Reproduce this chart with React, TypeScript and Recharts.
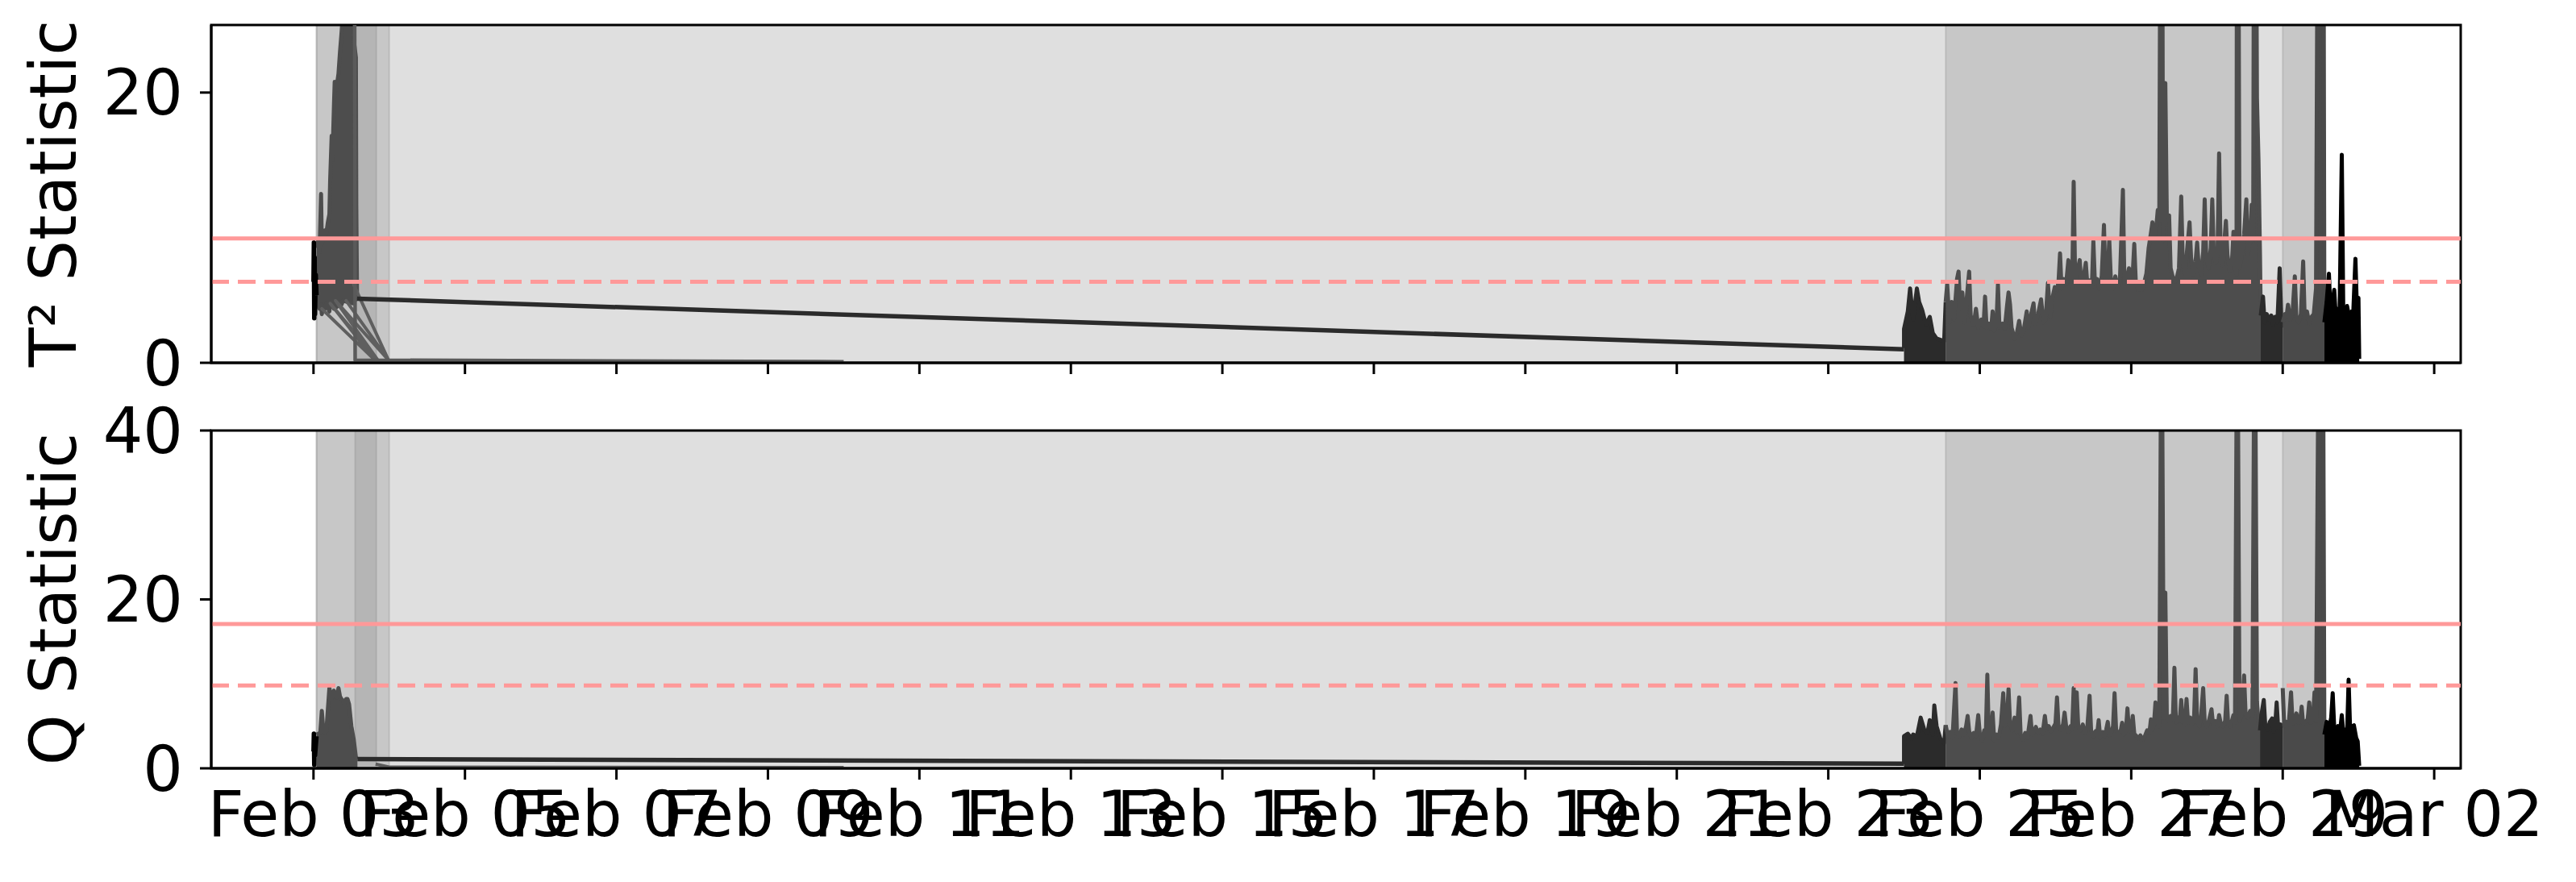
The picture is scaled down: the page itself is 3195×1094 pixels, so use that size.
import React from 'react';
import {
  ComposedChart,
  Line,
  Area,
  XAxis,
  YAxis,
  ReferenceArea,
  ReferenceLine
} from 'recharts';

// x values are days after Feb 03 00:00
const X_DOMAIN: [number, number] = [-1.35, 28.35];
const DAY_TICKS = [0, 2, 4, 6, 8, 10, 12, 14, 16, 18, 20, 22, 24, 26, 28];
const DAY_LABELS = [
  'Feb 03', 'Feb 05', 'Feb 07', 'Feb 09', 'Feb 11', 'Feb 13', 'Feb 15', 'Feb 17',
  'Feb 19', 'Feb 21', 'Feb 23', 'Feb 25', 'Feb 27', 'Feb 29', 'Mar 02'
];

// anomaly windows [start, end]
const SPANS: [number, number][] = [
  [0.04, 26.55],
  [0.04, 1.0],
  [0.55, 0.83],
  [21.55, 25.66],
  [26.0, 26.55]
];

const T2_LIMITS = { ucl: 9.2, warn: 6.0 };
const Q_LIMITS = { ucl: 17.1, warn: 9.8 };

// ---------- T² statistic ----------
const t2StartBlack = [[0.0, 6.0], [0.005, 8.9], [0.01, 3.3], [0.015, 7.8], [0.02, 3.6], [0.03, 6.5], [0.04, 5.0]];
const t2StartRange = [
  [0.04, 4.5, 8.5], [0.06, 4.2, 9.0], [0.08, 4.0, 8.2], [0.10, 4.3, 12.5], [0.11, 3.6, 8.8],
  [0.13, 4.2, 9.2], [0.15, 4.0, 9.8], [0.17, 4.4, 9.6], [0.19, 4.1, 10.4], [0.21, 3.8, 11.0],
  [0.22, 4.3, 13.5], [0.24, 4.2, 16.8], [0.25, 4.5, 15.0], [0.27, 4.0, 19.0], [0.28, 4.3, 20.8],
  [0.30, 4.1, 20.2], [0.32, 4.4, 21.0], [0.33, 4.2, 21.4], [0.35, 4.5, 23.0], [0.37, 4.3, 24.4],
  [0.39, 4.6, 26.0], [0.45, 4.5, 30.0], [0.52, 4.4, 28.0], [0.54, 4.6, 23.5], [0.56, 4.7, 22.6],
  [0.565, 4.7, 11.7], [0.575, 4.7, 4.9]
];
const t2Fan = [
  [0.81, 0.2], [0.11, 4.0], [0.81, 0.2], [0.22, 4.4], [0.85, 0.2], [0.29, 4.6],
  [0.99, 0.2], [0.43, 4.6], [0.99, 0.2], [0.53, 5.8], [0.99, 0.2]
];
const t2Drop = [[0.54, 40], [0.55, 0.2], [7.0, 0.08]];
const t2Bridge = [[0.575, 4.75], [21.0, 1.0]];
const t2Dark1 = [
  [21.0, 1.1], [21.0, 2.5], [21.05, 3.8], [21.08, 5.5], [21.12, 3.2], [21.17, 5.5], [21.2, 4.5],
  [21.24, 3.9], [21.29, 2.8], [21.34, 3.4], [21.38, 2.2], [21.43, 1.8], [21.53, 1.6], [21.55, 4.5]
];
const t2Gray2 = [
  [21.55, 4.5], [21.57, 5.8], [21.6, 3.0], [21.63, 4.5], [21.66, 3.2], [21.7, 6.2], [21.72, 6.75],
  [21.74, 4.0], [21.77, 5.2], [21.8, 3.0], [21.84, 5.5], [21.86, 6.75], [21.88, 3.5], [21.92, 2.8],
  [21.95, 4.0], [21.98, 2.6], [22.02, 3.2], [22.05, 2.7], [22.07, 4.9], [22.09, 2.6], [22.12, 2.9],
  [22.15, 2.5], [22.17, 3.8], [22.19, 2.4], [22.22, 2.8], [22.24, 5.8], [22.26, 2.6], [22.3, 2.9],
  [22.33, 2.5], [22.36, 4.2], [22.38, 5.2], [22.4, 4.3], [22.42, 2.6], [22.46, 1.8], [22.49, 2.2],
  [22.52, 3.1], [22.55, 2.0], [22.58, 2.4], [22.62, 3.8], [22.64, 2.6], [22.67, 3.4], [22.71, 4.4],
  [22.73, 2.9], [22.77, 3.6], [22.81, 4.7], [22.84, 3.0], [22.87, 3.2], [22.9, 5.9], [22.93, 3.4],
  [22.96, 4.8], [22.99, 5.6], [23.02, 5.4], [23.04, 6.0], [23.06, 8.1], [23.08, 5.5], [23.11, 6.2],
  [23.14, 5.8], [23.17, 7.6], [23.19, 6.6], [23.22, 5.6], [23.24, 13.4], [23.26, 6.0], [23.29, 6.8],
  [23.32, 7.6], [23.34, 5.9], [23.37, 6.3], [23.4, 7.4], [23.42, 5.8], [23.45, 6.1], [23.48, 5.6],
  [23.5, 9.0], [23.52, 5.9], [23.55, 6.2], [23.58, 5.5], [23.61, 6.4], [23.64, 10.2], [23.66, 6.0],
  [23.69, 6.7], [23.71, 9.1], [23.73, 6.3], [23.76, 5.5], [23.79, 6.4], [23.82, 5.6], [23.85, 6.0],
  [23.89, 12.8], [23.91, 5.8], [23.94, 6.2], [23.97, 7.0], [24.0, 5.9], [24.02, 6.6], [24.04, 8.8],
  [24.06, 6.0], [24.09, 5.4], [24.12, 5.8], [24.14, 5.4], [24.17, 5.9], [24.2, 6.6], [24.23, 8.5],
  [24.26, 9.6], [24.28, 10.4], [24.3, 9.2], [24.33, 10.0], [24.35, 11.3], [24.37, 10.5], [24.4, 60],
  [24.42, 9.0], [24.44, 12.0], [24.45, 20.7], [24.47, 10.8], [24.5, 10.9], [24.52, 7.0], [24.55, 6.3],
  [24.58, 6.0], [24.61, 6.5], [24.63, 7.0], [24.66, 12.3], [24.68, 7.5], [24.71, 6.6], [24.74, 8.5],
  [24.77, 10.4], [24.79, 7.8], [24.82, 6.5], [24.85, 7.5], [24.87, 8.9], [24.89, 7.2], [24.92, 6.5],
  [24.95, 8.2], [24.97, 12.1], [24.99, 7.9], [25.02, 7.0], [25.05, 8.5], [25.07, 12.1], [25.09, 8.0],
  [25.12, 7.4], [25.14, 8.3], [25.16, 15.5], [25.18, 8.2], [25.21, 7.2], [25.23, 9.0], [25.25, 10.5],
  [25.27, 8.0], [25.3, 6.8], [25.33, 7.5], [25.35, 9.7], [25.37, 7.0], [25.39, 6.5], [25.4, 60],
  [25.43, 7.0], [25.46, 8.0], [25.49, 9.5], [25.52, 12.1], [25.54, 8.0], [25.57, 9.0], [25.59, 11.7],
  [25.61, 9.0], [25.63, 60], [25.66, 19.6], [25.68, 15.0], [25.7, 8.0], [25.71, 3.5]
];
const t2Dark2 = [
  [25.71, 3.5], [25.74, 4.9], [25.76, 3.0], [25.79, 3.6], [25.82, 3.2], [25.85, 3.5], [25.87, 2.8],
  [25.9, 3.4], [25.93, 3.0], [25.96, 7.0], [25.98, 3.4], [26.0, 2.6]
];
const t2Gray3 = [
  [26.0, 3.0], [26.03, 3.6], [26.05, 3.4], [26.07, 4.3], [26.1, 3.2], [26.13, 3.7], [26.16, 6.4],
  [26.18, 3.4], [26.21, 3.0], [26.24, 3.6], [26.27, 7.5], [26.29, 3.3], [26.32, 3.8], [26.35, 2.9],
  [26.38, 3.4], [26.41, 3.6], [26.44, 5.5], [26.48, 60], [26.53, 60], [26.55, 3.0]
];
const t2Black = [
  [26.55, 3.0], [26.58, 4.5], [26.61, 6.6], [26.63, 3.8], [26.66, 4.6], [26.68, 5.4], [26.7, 3.5],
  [26.73, 4.0], [26.75, 3.4], [26.78, 15.4], [26.8, 3.6], [26.83, 3.0], [26.85, 4.2], [26.88, 3.3],
  [26.91, 3.8], [26.93, 3.5], [26.96, 7.7], [26.98, 3.9], [27.0, 4.8], [27.01, 0.3]
];

// ---------- Q statistic ----------
const qStartBlack = [[0.0, 2.0], [0.005, 4.1], [0.01, 0.4], [0.015, 3.5], [0.02, 1.5], [0.04, 3.8]];
const qStart = [
  [0.04, 4.0], [0.07, 4.1], [0.09, 4.3], [0.11, 6.8], [0.13, 4.5], [0.15, 4.2], [0.17, 4.4],
  [0.19, 7.0], [0.21, 9.5], [0.23, 8.6], [0.25, 8.4], [0.27, 9.2], [0.29, 8.6], [0.31, 8.4],
  [0.33, 9.5], [0.35, 8.5], [0.37, 8.2], [0.39, 8.0], [0.41, 7.7], [0.43, 8.2], [0.45, 8.2],
  [0.47, 7.6], [0.5, 5.0], [0.53, 3.5], [0.56, 1.3], [0.58, 1.1]
];
const qZero = [[0.82, 0.5], [1.0, 0.15], [7.0, 0.1]];
const qBridge = [[0.58, 1.1], [21.0, 0.55]];
const qDark1 = [
  [21.0, 0.5], [21.0, 3.8], [21.05, 4.1], [21.1, 3.5], [21.12, 4.0], [21.17, 3.8], [21.22, 6.0],
  [21.27, 4.5], [21.31, 4.2], [21.34, 5.7], [21.38, 4.0], [21.4, 7.45], [21.43, 5.0], [21.48, 3.5],
  [21.53, 3.0], [21.55, 5.1]
];
const qGray2 = [
  [21.55, 5.1], [21.58, 3.8], [21.61, 4.3], [21.64, 3.6], [21.68, 10.1], [21.7, 4.2], [21.73, 3.8],
  [21.76, 4.6], [21.79, 4.0], [21.82, 5.0], [21.84, 6.2], [21.86, 4.4], [21.89, 3.6], [21.92, 4.2],
  [21.95, 3.8], [21.98, 6.3], [22.0, 4.1], [22.03, 3.3], [22.06, 4.5], [22.08, 3.9], [22.1, 11.1],
  [22.12, 3.6], [22.15, 4.4], [22.17, 6.6], [22.19, 3.3], [22.22, 4.0], [22.25, 3.6], [22.28, 5.2],
  [22.31, 8.9], [22.33, 5.0], [22.36, 6.0], [22.38, 9.4], [22.4, 5.3], [22.43, 4.5], [22.46, 6.0],
  [22.49, 4.3], [22.52, 8.4], [22.54, 4.0], [22.57, 3.4], [22.6, 4.2], [22.63, 3.6], [22.67, 6.2],
  [22.69, 4.0], [22.72, 4.4], [22.74, 4.9], [22.77, 4.2], [22.8, 4.6], [22.83, 4.1], [22.86, 6.2],
  [22.88, 4.6], [22.91, 5.0], [22.94, 4.4], [22.97, 4.8], [23.0, 5.3], [23.02, 8.4], [23.04, 5.0],
  [23.07, 4.6], [23.1, 5.2], [23.12, 6.6], [23.14, 5.0], [23.17, 4.4], [23.2, 5.0], [23.22, 4.6],
  [23.24, 9.5], [23.26, 5.2], [23.28, 9.0], [23.3, 5.0], [23.33, 4.5], [23.36, 5.2], [23.39, 4.2],
  [23.42, 4.8], [23.45, 8.6], [23.47, 4.5], [23.5, 3.8], [23.53, 4.4], [23.55, 4.0], [23.57, 5.7],
  [23.59, 3.6], [23.62, 4.3], [23.65, 3.8], [23.67, 4.6], [23.69, 5.5], [23.71, 3.9], [23.74, 4.3],
  [23.76, 5.0], [23.78, 8.9], [23.8, 4.6], [23.83, 4.1], [23.86, 4.4], [23.88, 5.4], [23.9, 4.0],
  [23.93, 4.5], [23.95, 7.1], [23.97, 4.4], [24.0, 4.8], [24.02, 6.2], [24.04, 4.1], [24.07, 3.8],
  [24.1, 3.5], [24.12, 3.9], [24.15, 3.4], [24.18, 3.8], [24.21, 4.5], [24.24, 4.2], [24.26, 5.8],
  [24.28, 4.6], [24.3, 5.2], [24.32, 7.8], [24.34, 5.5], [24.37, 5.0], [24.4, 60], [24.43, 6.0],
  [24.45, 20.8], [24.47, 6.0], [24.5, 5.6], [24.52, 6.2], [24.55, 5.8], [24.57, 11.9], [24.59, 5.4],
  [24.62, 6.0], [24.64, 5.6], [24.66, 8.1], [24.68, 5.5], [24.71, 5.2], [24.73, 8.2], [24.75, 5.4],
  [24.78, 6.0], [24.8, 5.2], [24.83, 6.0], [24.85, 11.75], [24.87, 5.6], [24.9, 5.0], [24.92, 6.0],
  [24.95, 9.5], [24.97, 5.5], [25.0, 5.0], [25.03, 5.8], [25.06, 7.0], [25.08, 5.2], [25.11, 5.6],
  [25.14, 5.0], [25.16, 6.3], [25.18, 5.4], [25.21, 5.0], [25.24, 5.6], [25.26, 8.6], [25.28, 5.2],
  [25.31, 5.0], [25.35, 6.3], [25.37, 5.4], [25.4, 60], [25.43, 5.6], [25.46, 6.5], [25.49, 11.0],
  [25.51, 6.4], [25.54, 6.0], [25.57, 6.8], [25.6, 6.2], [25.63, 60], [25.66, 7.9], [25.68, 5.5],
  [25.7, 4.5]
];
const qDark2 = [
  [25.7, 4.5], [25.72, 6.4], [25.75, 8.1], [25.77, 5.0], [25.8, 4.6], [25.83, 5.5], [25.86, 5.9],
  [25.88, 4.4], [25.9, 5.0], [25.92, 7.8], [25.94, 4.8], [25.97, 5.2], [26.0, 5.0]
];
const qGray3 = [
  [26.0, 9.5], [26.02, 5.0], [26.05, 5.5], [26.08, 5.2], [26.11, 9.0], [26.13, 5.3], [26.16, 5.8],
  [26.18, 6.5], [26.21, 5.4], [26.23, 5.6], [26.25, 7.3], [26.27, 5.2], [26.3, 5.5], [26.33, 5.8],
  [26.35, 7.8], [26.37, 5.4], [26.4, 6.0], [26.42, 9.0], [26.44, 5.6], [26.48, 60], [26.53, 60],
  [26.55, 4.0]
];
const qBlack = [
  [26.55, 4.0], [26.58, 5.5], [26.61, 4.6], [26.64, 6.0], [26.66, 8.9], [26.68, 4.8], [26.71, 4.2],
  [26.73, 5.0], [26.76, 4.6], [26.78, 6.3], [26.8, 4.2], [26.83, 4.6], [26.85, 4.0], [26.87, 10.5],
  [26.89, 4.5], [26.92, 5.0], [26.94, 5.1], [26.97, 3.6], [26.99, 3.2], [27.01, 0.3]
];

const pts = (a: number[][]) => a.map(([d, v]) => ({ d, v }));
const rangePts = (a: number[][]) => a.map(([d, lo, hi]) => ({ d, v: [lo, hi] }));

type Series = { kind: 'line' | 'area'; data: any[]; color: string; width: number };

const t2Series: Series[] = [
  { kind: 'line', data: pts(t2Fan), color: '#5f5f5f', width: 4 },
  { kind: 'line', data: pts(t2Drop), color: '#5a5a5a', width: 4.5 },
  { kind: 'line', data: pts(t2Bridge), color: '#2b2b2b', width: 5.5 },
  { kind: 'area', data: rangePts(t2StartRange), color: '#4d4d4d', width: 5 },
  { kind: 'line', data: pts(t2StartBlack), color: '#000000', width: 5.5 },
  { kind: 'area', data: pts(t2Dark1), color: '#2b2b2b', width: 5 },
  { kind: 'area', data: pts(t2Gray2), color: '#4d4d4d', width: 5 },
  { kind: 'area', data: pts(t2Dark2), color: '#2b2b2b', width: 5 },
  { kind: 'area', data: pts(t2Gray3), color: '#4a4a4a', width: 5 },
  { kind: 'area', data: pts(t2Black), color: '#000000', width: 5 }
];

const qSeries: Series[] = [
  { kind: 'line', data: pts(qZero), color: '#5a5a5a', width: 4 },
  { kind: 'line', data: pts(qBridge), color: '#2b2b2b', width: 5.5 },
  { kind: 'area', data: pts(qStart), color: '#4d4d4d', width: 5 },
  { kind: 'line', data: pts(qStartBlack), color: '#000000', width: 5.5 },
  { kind: 'area', data: pts(qDark1), color: '#2b2b2b', width: 5 },
  { kind: 'area', data: pts(qGray2), color: '#4d4d4d', width: 5 },
  { kind: 'area', data: pts(qDark2), color: '#2b2b2b', width: 5 },
  { kind: 'area', data: pts(qGray3), color: '#4a4a4a', width: 5 },
  { kind: 'area', data: pts(qBlack), color: '#000000', width: 5 }
];

const FONT = 'DejaVu Sans';
const tickStyle = { fontSize: 78, fill: '#000', fontFamily: FONT };

interface PanelProps {
  height: number;
  top: number;
  xAxisHeight: number;
  yDomain: [number, number];
  yTicks: number[];
  limits: { ucl: number; warn: number };
  series: Series[];
  showDates: boolean;
}

const Panel: React.FC<PanelProps> = ({ height, top, xAxisHeight, yDomain, yTicks, limits, series, showDates }) => (
  <div style={{ position: 'absolute', left: 0, top: 0 }}>
    <ComposedChart width={3195} height={height} margin={{ top, right: 143, bottom: 0, left: 0 }}>
      <XAxis
        dataKey="d"
        type="number"
        domain={X_DOMAIN}
        ticks={DAY_TICKS}
        interval={0}
        allowDataOverflow
        height={xAxisHeight}
        tickSize={14}
        tickMargin={15}
        stroke="#000"
        strokeWidth={3}
        tick={tickStyle}
        tickFormatter={(v: number) => (showDates ? DAY_LABELS[DAY_TICKS.indexOf(v)] : '')}
      />
      <YAxis
        type="number"
        domain={yDomain}
        ticks={yTicks}
        interval={0}
        allowDataOverflow
        width={262}
        tickSize={14}
        tickMargin={21}
        stroke="#000"
        strokeWidth={3}
        tick={tickStyle}
      />
      {SPANS.map(([a, b], i) => (
        <ReferenceArea key={i} x1={a} x2={b} fill="#808080" fillOpacity={0.25} stroke="#808080" strokeOpacity={0.25} strokeWidth={2} />
      ))}
      {series.map((s, i) =>
        s.kind === 'area' ? (
          <Area
            key={i}
            data={s.data}
            dataKey="v"
            type="linear"
            stroke={s.color}
            strokeWidth={s.width}
            strokeLinejoin="round"
            fill={s.color}
            fillOpacity={1}
            dot={false}
            activeDot={false}
            isAnimationActive={false}
          />
        ) : (
          <Line
            key={i}
            data={s.data}
            dataKey="v"
            type="linear"
            stroke={s.color}
            strokeWidth={s.width}
            strokeLinejoin="round"
            dot={false}
            activeDot={false}
            isAnimationActive={false}
          />
        )
      )}
      <ReferenceLine y={limits.ucl} stroke="#ff9999" strokeWidth={5} />
      <ReferenceLine y={limits.warn} stroke="#ff9999" strokeWidth={5} strokeDasharray="22 11" />
      <ReferenceArea
        x1={X_DOMAIN[0]}
        x2={X_DOMAIN[1]}
        y1={yDomain[0]}
        y2={yDomain[1]}
        fill="none"
        stroke="#000"
        strokeWidth={3}
        ifOverflow="visible"
      />
    </ComposedChart>
  </div>
);

export default function App() {
  document.body.style.margin = '0';
  return (
    <div style={{ position: 'relative', width: 3195, height: 1094, background: '#fff', fontFamily: FONT }}>
      <Panel height={540} top={31} xAxisHeight={90} yDomain={[0, 25]} yTicks={[0, 20]} limits={T2_LIMITS} series={t2Series} showDates={false} />
      <Panel height={1094} top={534} xAxisHeight={141} yDomain={[0, 40]} yTicks={[0, 20, 40]} limits={Q_LIMITS} series={qSeries} showDates />
      <svg width={3195} height={1094} style={{ position: 'absolute', left: 0, top: 0, pointerEvents: 'none' }}>
        <text transform="translate(94, 240) rotate(-90)" textAnchor="middle" fontSize={80} fontFamily={FONT} fill="#000">
          T² Statistic
        </text>
        <text transform="translate(94, 743) rotate(-90)" textAnchor="middle" fontSize={80} fontFamily={FONT} fill="#000">
          Q Statistic
        </text>
      </svg>
    </div>
  );
}
